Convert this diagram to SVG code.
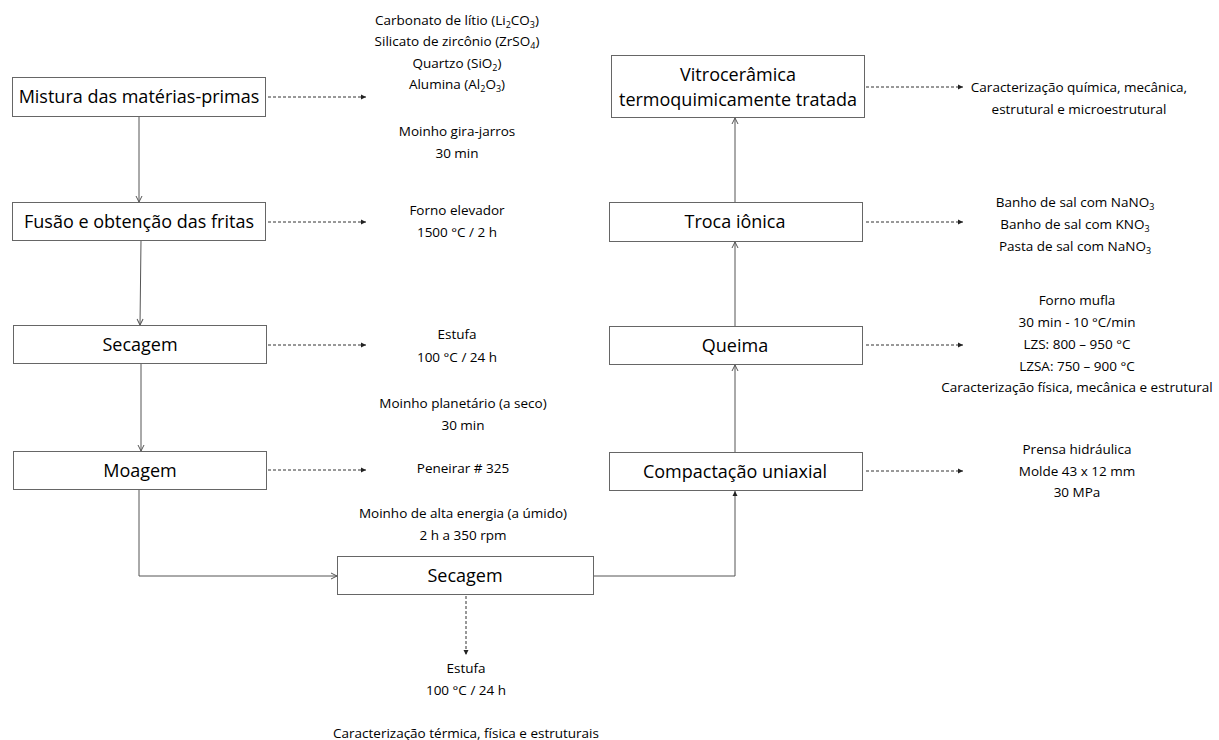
<svg xmlns="http://www.w3.org/2000/svg" width="1219" height="740" viewBox="0 0 1219 740">
<style>
.box{fill:#fff;stroke:#666;stroke-width:1}
.bt{font-family:"Open Sans","Liberation Sans",sans-serif;font-size:18px;fill:#000;text-anchor:middle}
.t{font-family:"Open Sans","Liberation Sans",sans-serif;font-size:13.5px;fill:#000;text-anchor:middle}
.s{font-size:9px}
.solid{fill:none;stroke:#555;stroke-width:1}
.dash{fill:none;stroke:#333;stroke-width:1;stroke-dasharray:3 2}
</style>
<defs>
<marker id="open" markerWidth="8" markerHeight="8" refX="7" refY="4" orient="auto" markerUnits="userSpaceOnUse"><path d="M1,1 L7,4 L1,7" fill="none" stroke="#555" stroke-width="1"/></marker>
<marker id="fill" markerWidth="6" markerHeight="6" refX="5" refY="3" orient="auto" markerUnits="userSpaceOnUse"><path d="M0,0.5 L5,3 L0,5.5 Z" fill="#222"/></marker>
</defs>
<rect width="1219" height="740" fill="#fff"/>

<g id="connectors">
<path class="solid" d="M139,117 L139,202" marker-end="url(#open)"/>
<path class="solid" d="M141,240 L140,325" marker-end="url(#open)"/>
<path class="solid" d="M141,363 L141,451" marker-end="url(#open)"/>
<path class="solid" d="M139,489 L139,576 L337,576" marker-end="url(#open)"/>
<path class="solid" d="M594,576 L735,576 L735,491" marker-end="url(#fill)"/>
<path class="solid" d="M735,453 L735,365" marker-end="url(#open)"/>
<path class="solid" d="M735,327 L735,242" marker-end="url(#open)"/>
<path class="solid" d="M735,203 L735,118" marker-end="url(#open)"/>
<path class="dash" d="M268,97 L366,97" marker-end="url(#fill)"/>
<path class="dash" d="M268,222 L366,222" marker-end="url(#fill)"/>
<path class="dash" d="M268,345 L366,345" marker-end="url(#fill)"/>
<path class="dash" d="M268,470 L366,470" marker-end="url(#fill)"/>
<path class="dash" d="M866,87 L963,87" marker-end="url(#fill)"/>
<path class="dash" d="M866,222 L963,222" marker-end="url(#fill)"/>
<path class="dash" d="M866,345 L963,345" marker-end="url(#fill)"/>
<path class="dash" d="M866,471 L963,471" marker-end="url(#fill)"/>
<path class="dash" d="M466,596 L466,655" marker-end="url(#fill)"/>
</g>

<g id="mistura"><rect class="box" x="12.5" y="77.5" width="253" height="39"/><text class="bt" x="139" y="103">Mistura das matérias-primas</text></g>
<g id="fusao"><rect class="box" x="12.5" y="202.5" width="253" height="38"/><text class="bt" x="139" y="228">Fusão e obtenção das fritas</text></g>
<g id="secagem1"><rect class="box" x="13.5" y="325.5" width="253" height="38"/><text class="bt" x="140" y="351">Secagem</text></g>
<g id="moagem"><rect class="box" x="13.5" y="451.5" width="253" height="38"/><text class="bt" x="140" y="477">Moagem</text></g>
<g id="secagem2"><rect class="box" x="337.5" y="556.5" width="256" height="38"/><text class="bt" x="465" y="582">Secagem</text></g>
<g id="compactacao"><rect class="box" x="609.5" y="452.5" width="253" height="38"/><text class="bt" x="735" y="478">Compactação uniaxial</text></g>
<g id="queima"><rect class="box" x="609.5" y="326.5" width="253" height="38"/><text class="bt" x="735" y="352">Queima</text></g>
<g id="troca"><rect class="box" x="609.5" y="202.5" width="253" height="39"/><text class="bt" x="735" y="228">Troca iônica</text></g>
<g id="vitro"><rect class="box" x="611.5" y="55.5" width="253" height="62"/><text class="bt" x="738" y="81">Vitrocerâmica</text><text class="bt" x="738" y="106">termoquimicamente tratada</text></g>

<g id="notes-left">
<text class="t" x="457" y="25">Carbonato de lítio (Li<tspan class="s" dy="3">2</tspan><tspan dy="-3">CO</tspan><tspan class="s" dy="3">3</tspan><tspan dy="-3">)</tspan></text>
<text class="t" x="457" y="46">Silicato de zircônio (ZrSO<tspan class="s" dy="3">4</tspan><tspan dy="-3">)</tspan></text>
<text class="t" x="457" y="68">Quartzo (SiO<tspan class="s" dy="3">2</tspan><tspan dy="-3">)</tspan></text>
<text class="t" x="457" y="89">Alumina (Al<tspan class="s" dy="3">2</tspan><tspan dy="-3">O</tspan><tspan class="s" dy="3">3</tspan><tspan dy="-3">)</tspan></text>
<text class="t" x="457" y="136">Moinho gira-jarros</text>
<text class="t" x="457" y="158">30 min</text>
<text class="t" x="457" y="215">Forno elevador</text>
<text class="t" x="457" y="237">1500 °C / 2 h</text>
<text class="t" x="457" y="339">Estufa</text>
<text class="t" x="457" y="362">100 °C / 24 h</text>
<text class="t" x="463" y="408">Moinho planetário (a seco)</text>
<text class="t" x="463" y="430">30 min</text>
<text class="t" x="463" y="473">Peneirar # 325</text>
<text class="t" x="463" y="518">Moinho de alta energia (a úmido)</text>
<text class="t" x="463" y="540">2 h a 350 rpm</text>
<text class="t" x="466" y="673">Estufa</text>
<text class="t" x="466" y="695">100 °C / 24 h</text>
<text class="t" x="466" y="738">Caracterização térmica, física e estruturais</text>
</g>

<g id="notes-right">
<text class="t" x="1079" y="92">Caracterização química, mecânica,</text>
<text class="t" x="1079" y="114">estrutural e microestrutural</text>
<text class="t" x="1075" y="207">Banho de sal com NaNO<tspan class="s" dy="3">3</tspan></text>
<text class="t" x="1075" y="229">Banho de sal com KNO<tspan class="s" dy="3">3</tspan></text>
<text class="t" x="1075" y="251">Pasta de sal com NaNO<tspan class="s" dy="3">3</tspan></text>
<text class="t" x="1077" y="305">Forno mufla</text>
<text class="t" x="1077" y="327">30 min - 10 °C/min</text>
<text class="t" x="1077" y="349">LZS: 800 – 950 °C</text>
<text class="t" x="1077" y="371">LZSA: 750 – 900 °C</text>
<text class="t" x="1077" y="392">Caracterização física, mecânica e estrutural</text>
<text class="t" x="1077" y="454">Prensa hidráulica</text>
<text class="t" x="1077" y="476">Molde 43 x 12 mm</text>
<text class="t" x="1077" y="497">30 MPa</text>
</g>
</svg>
